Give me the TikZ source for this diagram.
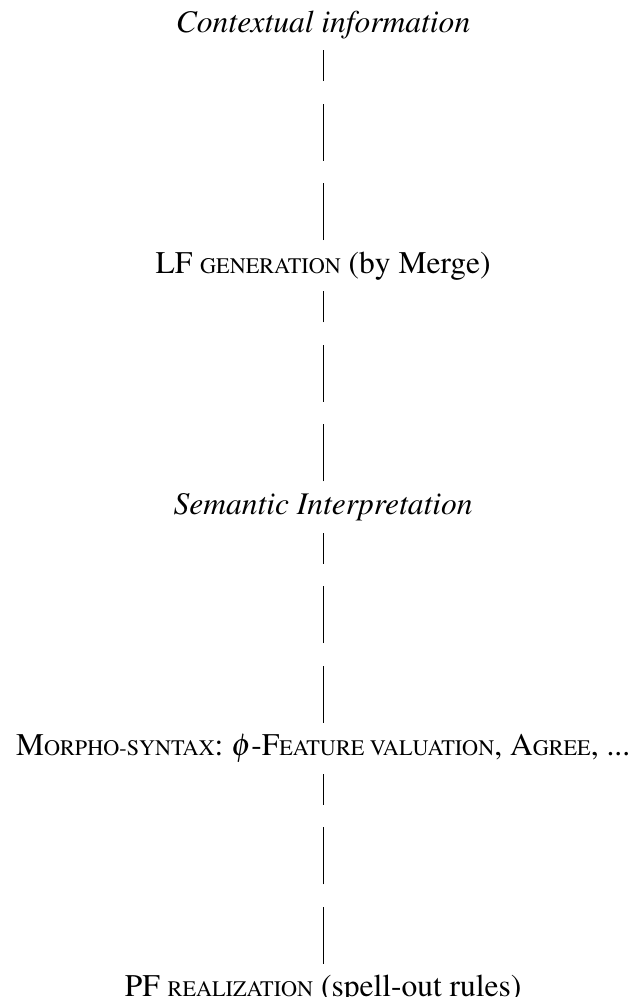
\documentclass[tikz,border=0pt]{standalone}
\usepackage[T1]{fontenc}
\usepackage{mathptmx}
\usetikzlibrary{positioning}

% small capitals, set by hand
\newcommand{\smallcap}[1]{{\fontsize{7.4}{8}\selectfont\MakeUppercase{#1}}}

\tikzset{
  stage/.style={inner sep=3.33pt, text height=7.5pt, text depth=2.5pt, font=\fontsize{10.5}{12}\selectfont},
  link/.style={draw, line width=0.4pt, dash pattern=on 19pt off 7.5pt},
}

\begin{document}
\begin{tikzpicture}[node distance=63.33pt]
				\useasboundingbox (-107.7pt,8.2pt) rectangle (104.3pt,-324.1pt);
				
				\node[stage]                    (ctx)   {\textit{Contextual information}};
				\node[stage, below=of ctx]      (lf)    {LF \smallcap{generation} (by Merge)};
				\node[stage, below=of lf]       (sem)   {\textit{Semantic Interpretation}};
				\node[stage, below=of sem]      (morph) {M\smallcap{orpho-syntax}: $\phi$-F\smallcap{eature valuation}, A\smallcap{gree}, ...};
				\node[stage, below=of morph]    (pf)    {PF \smallcap{realization} (spell-out rules)};
				
				% dashed links, drawn bottom-up
				\draw[link] (lf) -- (ctx);
				\draw[link] (sem) -- (lf);
				\draw[link] (morph) -- (sem);
				\draw[link] (pf) -- (morph);
				
			\end{tikzpicture}
\end{document}
